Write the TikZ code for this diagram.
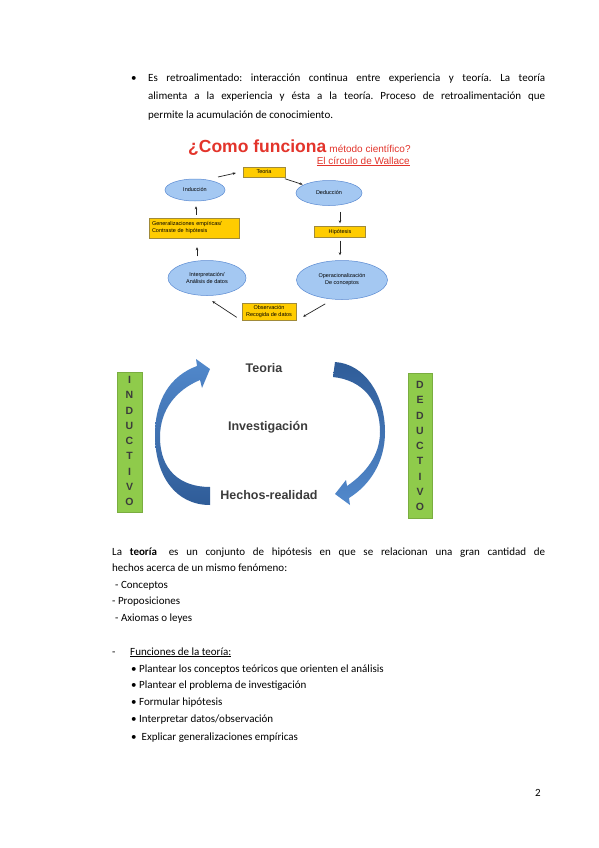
\documentclass[tikz,border=0pt]{standalone}
\usepackage{fontspec}
\setmainfont{Carlito}
\newfontfamily\arialf{Liberation Sans}
\usetikzlibrary{arrows.meta,shapes.geometric}
\definecolor{wred}{HTML}{E3342B}
\definecolor{ellfill}{HTML}{A4C8F2}
\definecolor{elldraw}{HTML}{5A8AD2}
\definecolor{yfill}{HTML}{FFCC00}
\definecolor{ydraw}{HTML}{A08A3A}
\definecolor{gfill}{HTML}{8FCB4B}
\definecolor{darkblue}{HTML}{2F5C98}
\definecolor{lightblue}{HTML}{5289CC}
\definecolor{txtgray}{HTML}{3B3B3B}
\frenchspacing
\begin{document}
\begin{tikzpicture}[x=1pt,y=-1pt,
  body/.style={anchor=base west, inner sep=0pt, font=\fontsize{11}{13}\selectfont},
  ell/.style={ellipse, draw=elldraw, fill=ellfill, line width=0.5pt, inner sep=0pt, align=center, font=\arialf\fontsize{5.5}{7}\selectfont},
  ybox/.style={rectangle, draw=ydraw, fill=yfill, line width=0.4pt, inner sep=0pt, font=\arialf\fontsize{5.5}{7}\selectfont},
  warr/.style={-{Stealth[length=3pt,width=2.6pt]}, line width=0.7pt, black!85},
  bigtxt/.style={font=\arialf\bfseries\fontsize{12.5}{14}\selectfont, text=txtgray, inner sep=0pt},
  gbox/.style={rectangle, fill=gfill, draw=gfill!85!black, line width=0.3pt, inner sep=0pt},
  vlet/.style={font=\arialf\bfseries\fontsize{10.5}{12}\selectfont, text=txtgray, inner sep=0pt}
]
\path[use as bounding box, fill=white] (0,0) rectangle (599,848);

% ---------- top paragraph ----------
\node[body] (b0) at (131,82) {•};
\node[body] (t1) at (148,82) {\makebox[397pt][s]{Es retroalimentado: interacción continua entre experiencia y teoría. La teoría}};
\node[body] (t2) at (148,100) {\makebox[397pt][s]{alimenta a la experiencia y ésta a la teoría. Proceso de retroalimentación que}};
\node[body] (t3) at (148,118) {permite la acumulación de conocimiento.};

% ---------- Wallace circle ----------
\node[anchor=base west, inner sep=0pt, text=wred, font=\arialf\bfseries\fontsize{17.5}{18}\selectfont] (tit) at (188,152) {¿Como funciona};
\node[anchor=base west, inner sep=0pt, text=wred, font=\arialf\fontsize{10}{11}\selectfont] (tit2) at (tit.base east) {\ método científico?};
\node[anchor=base east, inner sep=0pt, text=wred, font=\arialf\fontsize{10}{11}\selectfont] (tit3) at (410,164) {\underline{El círculo de Wallace}};

\node[ybox, minimum width=42pt, minimum height=10pt] (teo) at (264,172) {Teoria};
\node[ell, minimum width=60pt, minimum height=22pt] (ind) at (195,190) {Inducción};
\node[ell, minimum width=66pt, minimum height=25pt] (ded) at (329,193) {Deducción};
\node[ybox, minimum width=51pt, minimum height=11pt] (hip) at (340,232) {Hipótesis};
\node[ell, minimum width=91pt, minimum height=39pt] (op) at (342,280) {Operacionalización\\De conceptos};
\node[ybox, minimum width=54pt, minimum height=17pt, align=center] (obs) at (269,312) {Observación\\Recogida de datos};
\node[ell, minimum width=78pt, minimum height=35pt] (int) at (207,278) {Interpretación/\\Análisis de datos};
\node[ybox, minimum width=90pt, minimum height=20pt, align=left, text width=84pt] (gen) at (194,228) {Generalizaciones empíricas/\\Contraste de hipótesis};

\draw[warr] ([xshift=23pt,yshift=13pt]ind.center) -- ([xshift=-7pt,yshift=-1pt]teo.west);
\draw[warr, shorten <=5pt, shorten >=1pt] (teo) -- (ded);
\draw[warr, shorten <=6pt, shorten >=3pt] (hip.north |- ded.south) -- (hip.north);
\draw[warr, shorten <=3pt, shorten >=5pt] (hip.south) -- (hip.south |- op.north);
\draw[warr, shorten <=9pt, shorten >=8pt] (op.-115) -- (obs.south east);
\draw[warr, shorten <=6pt, shorten >=10pt] (obs.south west) -- (int.-100);
\draw[warr, shorten <=4pt, shorten >=9pt] ([xshift=3pt]gen.south |- int.north) -- ([xshift=3pt]gen.south);
\draw[warr, shorten <=3pt, shorten >=5pt] ([xshift=2pt]gen.north) -- ([xshift=2pt]gen.north |- ind.south);

% ---------- Inductivo / Deductivo ----------
\node[gbox, minimum width=25pt, minimum height=140pt] (indbox) at (129.5,442) {};
\node[gbox, minimum width=24pt, minimum height=145pt] (dedbox) at (420,445.5) {};
\foreach \l [count=\i from 0] in {I,N,D,U,C,T,I,V,O}
  \node[vlet] (il\i) at (129.5,380+15.25*\i) {\l};
\foreach \l [count=\i from 0] in {D,E,D,U,C,T,I,V,O}
  \node[vlet] (dl\i) at (420,385+15.25*\i) {\l};

\node[bigtxt] (teoria) at (264,368) {Teoria};
\node[bigtxt] (inv) at (268,427) {Investigación};
\node[bigtxt] (hech) at (269,495) {Hechos-realidad};

\shade[top color=lightblue, bottom color=darkblue]
  (210,505) .. controls (175,505) and (155,475) .. (155,435)
  .. controls (155,400) and (170,376) .. (197,366)
  -- (196,359) -- (210,369) -- (202,388) -- (200,380)
  .. controls (176,390) and (160,410) .. (160,437)
  .. controls (160,470) and (180,487) .. (210,487) -- cycle;
\shade[top color=darkblue, bottom color=lightblue]
  (335,362) .. controls (365,364) and (385,395) .. (385,432)
  .. controls (385,462) and (370,485) .. (349,498)
  -- (350,505) -- (335,494) -- (346,480) -- (347,486)
  .. controls (366,473) and (380,455) .. (380,432)
  .. controls (380,400) and (362,380) .. (333,377) -- cycle;

% ---------- lower text ----------
\node[body] (p1) at (112,555) {\makebox[433pt][s]{La \textbf{teoría}\hspace{4pt} es un conjunto de hipótesis en que se relacionan una gran cantidad de}};
\node[body] (p2) at (112,571.5) {hechos acerca de un mismo fenómeno:};
\node[body] (p3) at (115,588) {- Conceptos};
\node[body] (p4) at (112,604.5) {- Proposiciones};
\node[body] (p5) at (115,621) {- Axiomas o leyes};

\node[body] (fd) at (112,655) {-};
\node[body] (ft) at (130,655) {\underline{Funciones de la teoría:}};
\node[body] (f1) at (131,672) {• Plantear los conceptos teóricos que orienten el análisis};
\node[body] (f2) at (131,688.5) {• Plantear el problema de investigación};
\node[body] (f3) at (131,705) {• Formular hipótesis};
\node[body] (f4) at (131,722) {• Interpretar datos/observación};
\node[body] (f5) at (131,740) {•\hspace{2.5pt} Explicar generalizaciones empíricas};

\node[body] (pg) at (535,796) {2};
\end{tikzpicture}
\end{document}
